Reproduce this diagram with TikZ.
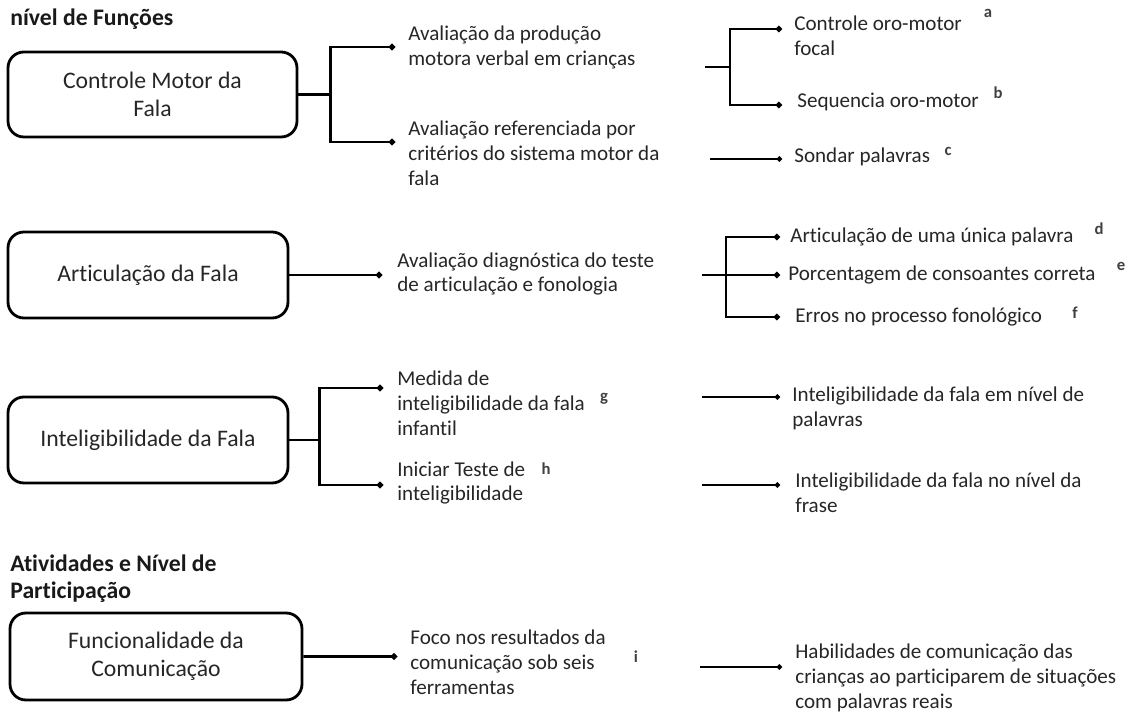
\documentclass[tikz,border=0pt]{standalone}
\usepackage{fontspec}
\setmainfont{Carlito}[Ligatures=NoCommon]
\usetikzlibrary{arrows.meta, calc}

\begin{document}
\begin{tikzpicture}[
  x=0.02cm, y=-0.02cm,
  cat/.style={draw, line width=1.6pt, rounded corners=9pt, align=center,
    font=\fontsize{13.5}{16}\selectfont, text=black!85},
  txt/.style={anchor=west, align=left, inner sep=0pt,
    font=\fontsize{12}{14.2}\selectfont, text=black!85},
  head/.style={anchor=west, align=left, inner sep=0pt,
    font=\fontsize{13.5}{15.5}\selectfont\bfseries, text=black!90},
  ref/.style={inner sep=0pt, font=\fontsize{9.5}{9.5}\selectfont\bfseries, text=black!75},
  stem/.style={line width=1.6pt},
  branch/.style={line width=1.6pt, -{Circle[length=3.5pt]}},
  leaf/.style={line width=1.1pt, -{Circle[length=3pt]}},
]
\useasboundingbox (0,0) rectangle (1127,715);

% ===== Nivel de Funcoes =====
\node[head] (hf) at (10,19) {nível de Funções};

% ===== Controle Motor da Fala =====
\node[cat, minimum width=5.78cm, minimum height=1.7cm] (cm) at (152.5,94.5) {Controle Motor da\\Fala};
\node[txt] (cm1) at (408,47) {Avaliação da produção\\motora verbal em crianças};
\node[txt] (cm2) at (408,153.5) {Avaliação referenciada por\\critérios do sistema motor da\\fala};

\draw[stem] (cm.east) -- ++(32,0) coordinate (cmj);
\draw[branch] (cmj) |- ([xshift=-0.26cm]cm1.west);
\draw[branch] (cmj) |- ([xshift=-0.26cm, yshift=0.23cm]cm2.west);

\node[txt] (om1) at (794,36) {Controle oro-motor\\focal};
\node[txt] (om2) at (797,102) {Sequencia oro-motor};
\node[txt] (sp) at (794,157) {Sondar palavras};

\coordinate (oms) at (705,67);
\draw[stem, line width=1.3pt] (oms) -- ++(25,0) coordinate (omj);
\draw[branch, line width=1.3pt] (omj) |- ([xshift=-0.24cm, yshift=0.14cm]om1.west);
\draw[branch, line width=1.3pt] (omj) |- ([xshift=-0.3cm, yshift=-0.06cm]om2.west);
\draw[leaf] ([xshift=-1.68cm, yshift=-0.04cm]sp.west) -- ([xshift=-0.24cm, yshift=-0.04cm]sp.west);

\node[ref] (ra) at (988,13) {a};
\node[ref] (rb) at (998,93) {b};
\node[ref] (rc) at (948,151) {c};

% ===== Articulacao da Fala =====
\node[cat, minimum width=5.6cm, minimum height=1.72cm] (af) at (148,275) {Articulação da Fala};
\node[txt] (af1) at (397,274) {Avaliação diagnóstica do teste\\de articulação e fonologia};
\draw[branch] (af.east) -- ([xshift=-0.3cm, yshift=-0.02cm]af1.west);

\node[txt] (ar1) at (790,237) {Articulação de uma única palavra};
\node[txt] (ar2) at (788,275) {Porcentagem de consoantes correta};
\node[txt] (ar3) at (795,317) {Erros no processo fonológico};

\coordinate (ars) at (702,275);
\draw[branch, line width=1.3pt] (ars) -- ++(24,0) coordinate (arj) -- ([xshift=-0.16cm]ar2.west);
\draw[branch, line width=1.3pt] (arj) |- ([xshift=-0.2cm]ar1.west);
\draw[branch, line width=1.3pt] (arj) |- ([xshift=-0.3cm]ar3.west);

\node[ref] (rd) at (1099,229) {d};
\node[ref] (re) at (1121,266) {e};
\node[ref] (rf) at (1075,313) {f};

% ===== Inteligibilidade da Fala =====
\node[cat, minimum width=5.6cm, minimum height=1.72cm] (ig) at (148,440) {Inteligibilidade da Fala};
\node[txt] (ig1) at (397,403) {Medida de\\inteligibilidade da fala\\infantil};
\node[txt] (ig2) at (397,483) {Iniciar Teste de\\inteligibilidade};

\draw[stem] (ig.east) -- ++(30,0) coordinate (igj);
\draw[branch] (igj) |- ([xshift=-0.28cm, yshift=0.3cm]ig1.west);
\draw[branch] (igj) |- ([xshift=-0.28cm, yshift=-0.04cm]ig2.west);

\node[txt] (ig3) at (792,408.5) {Inteligibilidade da fala em nível de\\palavras};
\node[txt] (ig4) at (795,492.5) {Inteligibilidade da fala no nível da\\frase};
\draw[leaf] ([xshift=-1.8cm, yshift=0.23cm]ig3.west) -- ([xshift=-0.24cm, yshift=0.23cm]ig3.west);
\draw[leaf] ([xshift=-1.86cm, yshift=0.15cm]ig4.west) -- ([xshift=-0.3cm, yshift=0.15cm]ig4.west);

\node[ref] (rg) at (604,399) {g};
\node[ref] (rh) at (546,469) {h};

% ===== Atividades e Nivel de Participacao =====
\node[head] (ha) at (10,578.5) {Atividades e Nível de\\Participação};
\node[cat, minimum width=5.84cm, minimum height=1.74cm] (fc) at (156,656.5) {Funcionalidade da\\Comunicação};
\node[txt] (fc1) at (410,662) {Foco nos resultados da\\comunicação sob seis\\ferramentas};
\draw[branch] (fc.east) -- ([xshift=-0.26cm, yshift=0.11cm]fc1.west);

\node[txt] (fc2) at (795,678) {Habilidades de comunicação das\\crianças ao participarem de situações\\com palavras reais};
\draw[leaf] ([xshift=-1.9cm, yshift=0.22cm]fc2.west) -- ([xshift=-0.26cm, yshift=0.22cm]fc2.west);

\node[ref] (ri) at (636,657) {i};

\end{tikzpicture}
\end{document}
